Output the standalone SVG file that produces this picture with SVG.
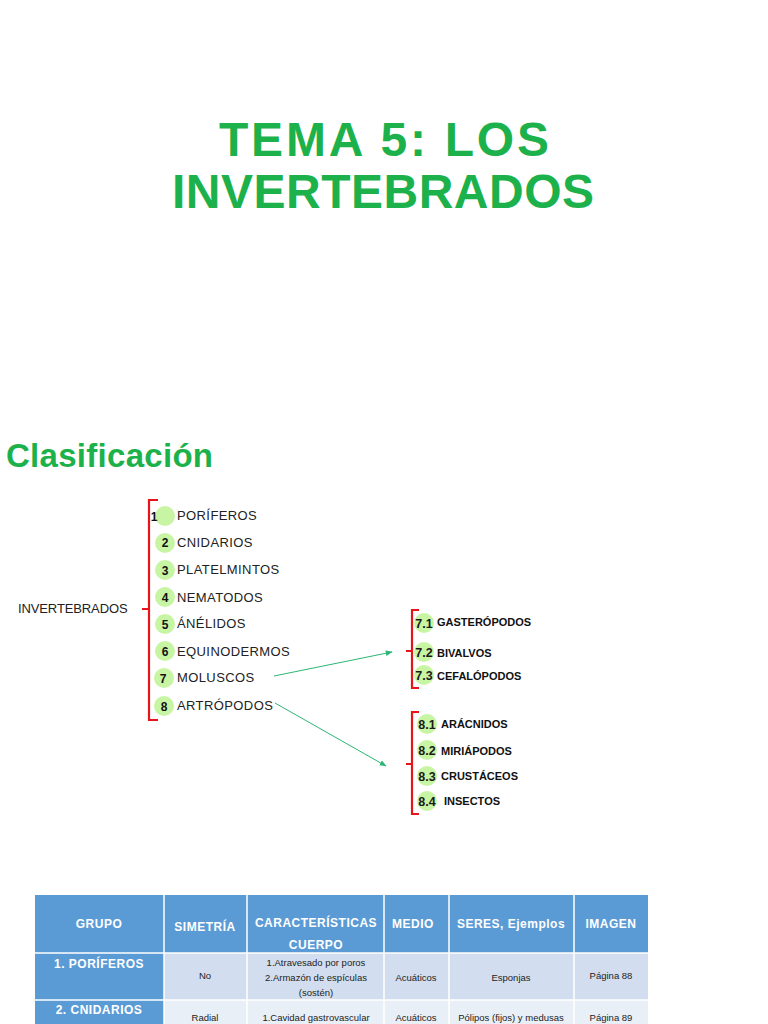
<svg xmlns="http://www.w3.org/2000/svg" width="768" height="1024" viewBox="0 0 768 1024">
<defs>
<style>
.title{font-family:"Liberation Sans",Arial,sans-serif;font-weight:bold;fill:#1db14b}
.lbl{font-family:"Liberation Sans",Arial,sans-serif;font-size:13px;fill:#222;letter-spacing:0.4px}
.num{font-family:"Liberation Sans",Arial,sans-serif;font-size:12px;font-weight:bold;fill:#111;text-anchor:middle}
.sub{font-family:"Liberation Sans",Arial,sans-serif;font-size:11px;font-weight:bold;fill:#111}
.snum{font-family:"Liberation Sans",Arial,sans-serif;font-size:12.5px;font-weight:bold;fill:#1a1a1a;text-anchor:middle}
.dot{fill:#c8f5a4}
.br{fill:none;stroke:#e8141c;stroke-width:2.2}
.con{fill:none;stroke:#2bb673;stroke-width:1}
.hd{fill:#5b9bd5}
.c1{fill:#d2deef}
.c2{fill:#e9eff7}
.grid{fill:none;stroke:#ffffff;stroke-width:1.5}
.th{font-family:"Liberation Sans",Arial,sans-serif;font-size:12px;font-weight:bold;fill:#fff;text-anchor:middle;letter-spacing:0.5px}
.td{font-family:"Liberation Sans",Arial,sans-serif;font-size:9.5px;fill:#222;text-anchor:middle}
</style>
<marker id="ah" viewBox="0 0 10 10" refX="9" refY="5" markerWidth="7" markerHeight="7" orient="auto" markerUnits="userSpaceOnUse">
<path d="M0,1 L10,5 L0,9 z" fill="#2bb673"/>
</marker>
</defs>
<rect width="768" height="1024" fill="#ffffff"/>

<g id="title">
<text class="title" x="384" y="156" font-size="48" text-anchor="middle" textLength="330">TEMA 5: LOS</text>
<text class="title" x="383" y="208" font-size="48" text-anchor="middle" textLength="422">INVERTEBRADOS</text>
</g>
<g id="clasificacion">
<text class="title" x="6" y="467" font-size="33" textLength="207">Clasificación</text>
</g>

<g id="invertebrados">
<text class="lbl" x="18" y="613" font-size="12.5" textLength="110">INVERTEBRADOS</text>
<path class="br" d="M158,500 H149 V720 H158 M149,609 H142"/>
</g>

<g id="n1"><circle class="dot" cx="165" cy="516" r="10"/><text class="num" x="154" y="521">1</text><text class="lbl" x="177" y="520">PORÍFEROS</text></g>
<g id="n2"><circle class="dot" cx="165" cy="543" r="10"/><text class="num" x="165" y="547">2</text><text class="lbl" x="177" y="547">CNIDARIOS</text></g>
<g id="n3"><circle class="dot" cx="165" cy="570" r="10"/><text class="num" x="165" y="575">3</text><text class="lbl" x="177" y="574">PLATELMINTOS</text></g>
<g id="n4"><circle class="dot" cx="165" cy="597" r="10"/><text class="num" x="165" y="602">4</text><text class="lbl" x="177" y="602" font-size="14.5">NEMATODOS</text></g>
<g id="n5"><circle class="dot" cx="165" cy="624" r="10"/><text class="num" x="165" y="629">5</text><text class="lbl" x="177" y="628">ÁNÉLIDOS</text></g>
<g id="n6"><circle class="dot" cx="165" cy="651" r="10"/><text class="num" x="165" y="656">6</text><text class="lbl" x="177" y="656">EQUINODERMOS</text></g>
<g id="n7"><circle class="dot" cx="164" cy="678" r="10"/><text class="num" x="163" y="683">7</text><text class="lbl" x="177" y="682">MOLUSCOS</text></g>
<g id="n8"><circle class="dot" cx="164" cy="706" r="10"/><text class="num" x="164" y="711">8</text><text class="lbl" x="177" y="710">ARTRÓPODOS</text></g>

<g id="connectors">
<line class="con" x1="274" y1="676" x2="392" y2="652" marker-end="url(#ah)"/>
<line class="con" x1="275" y1="703" x2="386" y2="766" marker-end="url(#ah)"/>
</g>

<g id="moluscos-sub">
<path class="br" d="M419,610 H412 V688 H419 M412,651 H406"/>
<g id="n71"><circle class="dot" cx="424" cy="623" r="10"/><text class="snum" x="424" y="628">7.1</text><text class="sub" x="437" y="626">GASTERÓPODOS</text></g>
<g id="n72"><circle class="dot" cx="424" cy="652" r="10"/><text class="snum" x="424" y="657">7.2</text><text class="sub" x="437" y="657">BIVALVOS</text></g>
<g id="n73"><circle class="dot" cx="424" cy="675" r="10"/><text class="snum" x="424" y="680">7.3</text><text class="sub" x="437" y="680">CEFALÓPODOS</text></g>
</g>

<g id="artropodos-sub">
<path class="br" d="M419,712 H412 V814 H419 M412,764 H406"/>
<g id="n81"><circle class="dot" cx="427" cy="724" r="10"/><text class="snum" x="427" y="729">8.1</text><text class="sub" x="441" y="728">ARÁCNIDOS</text></g>
<g id="n82"><circle class="dot" cx="427" cy="750" r="10"/><text class="snum" x="427" y="755">8.2</text><text class="sub" x="441" y="755">MIRIÁPODOS</text></g>
<g id="n83"><circle class="dot" cx="427" cy="776" r="10"/><text class="snum" x="427" y="781">8.3</text><text class="sub" x="441" y="780">CRUSTÁCEOS</text></g>
<g id="n84"><circle class="dot" cx="427" cy="801" r="10"/><text class="snum" x="427" y="806">8.4</text><text class="sub" x="444" y="805">INSECTOS</text></g>
</g>

<g id="table">
<rect class="hd" x="35" y="895" width="613" height="58"/>
<rect class="hd" x="35" y="953" width="129" height="71"/>
<rect class="c1" x="164" y="953" width="484" height="47"/>
<rect class="c2" x="164" y="1000" width="484" height="24"/>
<path class="grid" d="M35,953 H648 M35,1000 H648 M164,895 V1024 M247,895 V1024 M384,895 V1024 M449,895 V1024 M574,895 V1024"/>
<text class="th" x="99" y="928">GRUPO</text>
<text class="th" x="205" y="931">SIMETRÍA</text>
<text class="th" x="316" y="927">CARACTERÍSTICAS</text>
<text class="th" x="316" y="949">CUERPO</text>
<text class="th" x="413" y="928">MEDIO</text>
<text class="th" x="511" y="928">SERES, Ejemplos</text>
<text class="th" x="611" y="928">IMAGEN</text>
<text class="th" x="99" y="968" font-size="11">1. PORÍFEROS</text>
<text class="td" x="205" y="979">No</text>
<text class="td" x="316" y="966">1.Atravesado por poros</text>
<text class="td" x="316" y="981">2.Armazón de espículas</text>
<text class="td" x="316" y="996">(sostén)</text>
<text class="td" x="416" y="981">Acuáticos</text>
<text class="td" x="511" y="981">Esponjas</text>
<text class="td" x="611" y="979">Página 88</text>
<text class="th" x="99" y="1014" font-size="11">2. CNIDARIOS</text>
<text class="td" x="205" y="1021">Radial</text>
<text class="td" x="316" y="1021">1.Cavidad gastrovascular</text>
<text class="td" x="416" y="1021">Acuáticos</text>
<text class="td" x="511" y="1021">Pólipos (fijos) y medusas</text>
<text class="td" x="611" y="1021">Página 89</text>
</g>
</svg>
